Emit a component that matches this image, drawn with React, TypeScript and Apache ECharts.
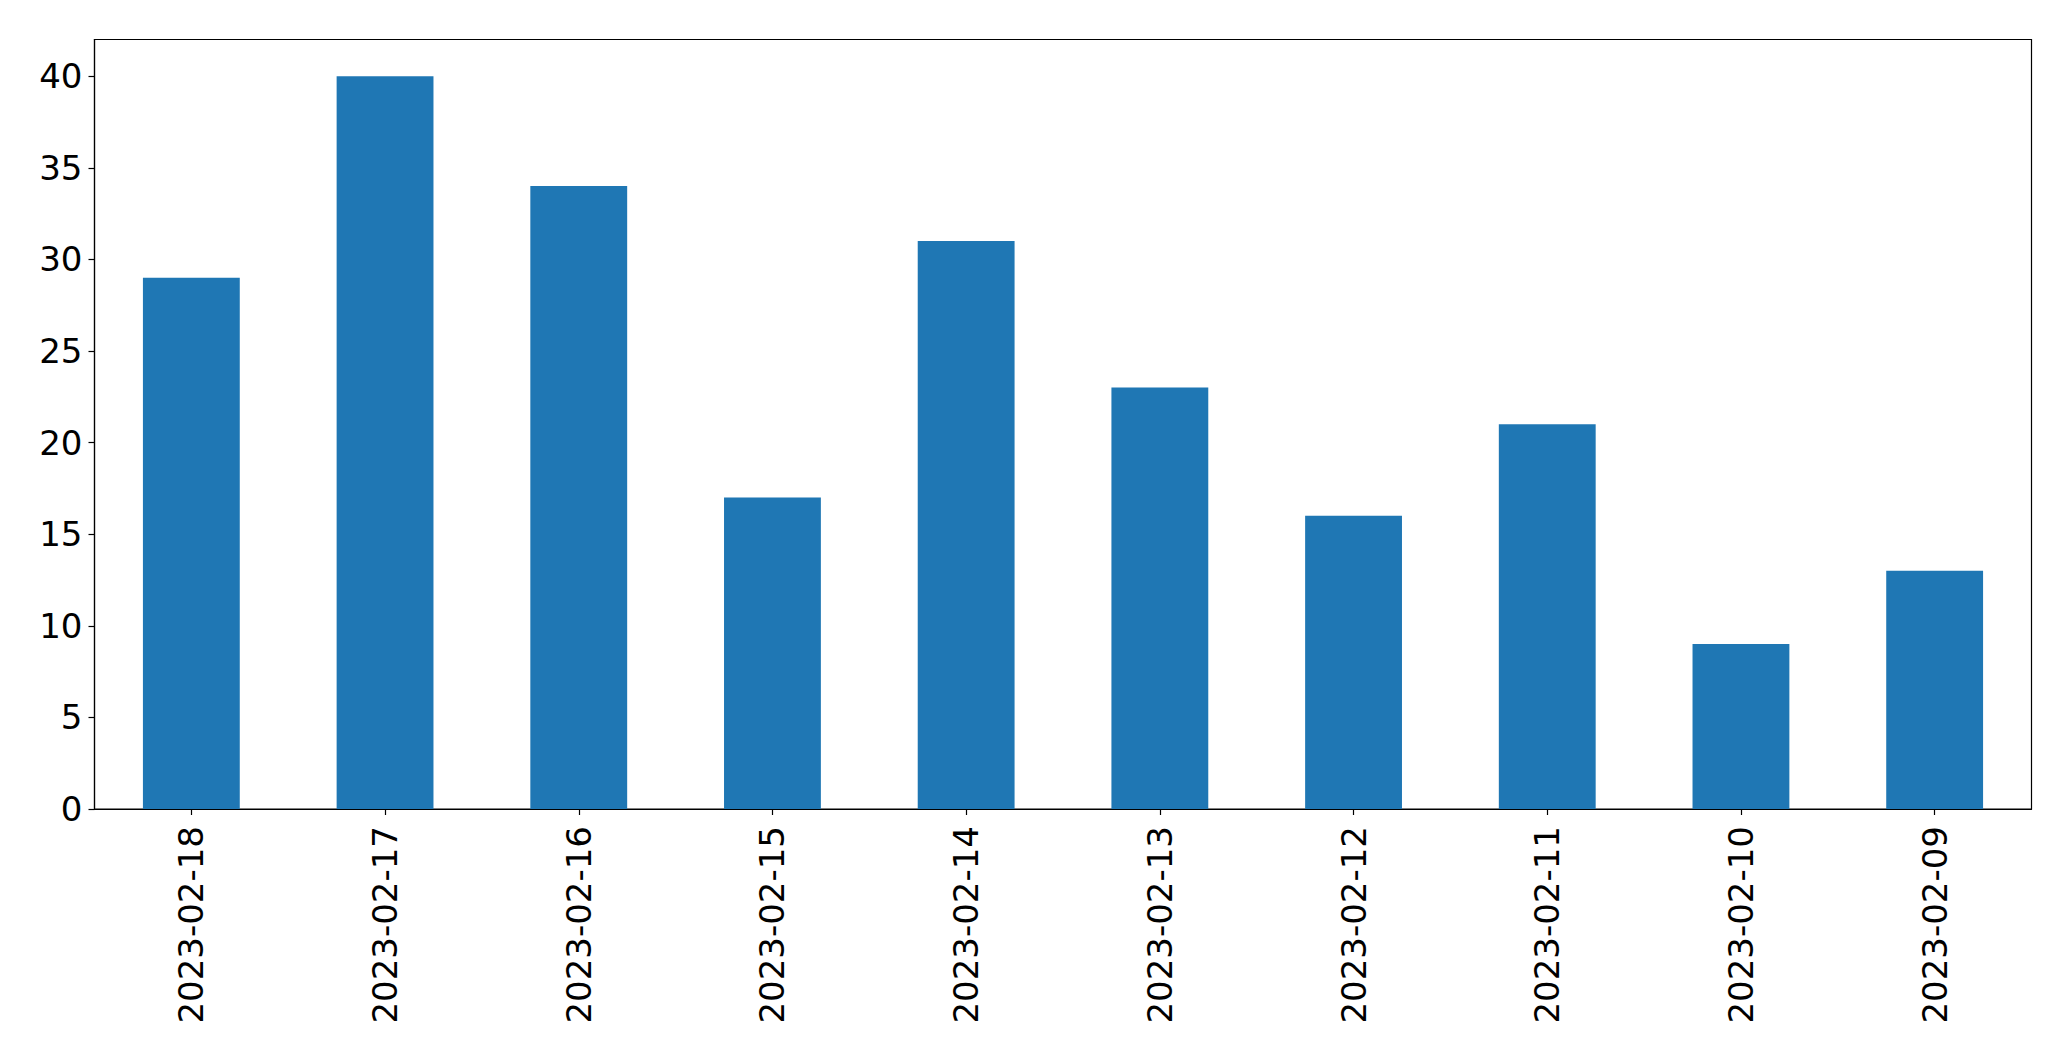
import React, { useEffect, useRef } from "react";
import * as echarts from "echarts";

const categories = [
  "2023-02-18",
  "2023-02-17",
  "2023-02-16",
  "2023-02-15",
  "2023-02-14",
  "2023-02-13",
  "2023-02-12",
  "2023-02-11",
  "2023-02-10",
  "2023-02-09",
];
const values = [29, 40, 34, 17, 31, 23, 16, 21, 9, 13];
const yTicks = [0, 5, 10, 15, 20, 25, 30, 35, 40];

export default function App() {
  const ref = useRef<HTMLDivElement>(null);
  useEffect(() => {
    if (!ref.current) return;
    const chart = echarts.init(ref.current, undefined, { renderer: "svg" });
    const font = "DejaVu Sans";
    chart.setOption({
      animation: false,
      backgroundColor: "#ffffff",
      grid: {
        left: 94.5,
        right: 39.5,
        top: 39.5,
        bottom: 252,
        show: true,
        borderColor: "#000000",
        borderWidth: 1.2,
        backgroundColor: "transparent",
      },
      xAxis: {
        type: "category",
        data: categories,
        boundaryGap: true,
        axisLine: { show: true, lineStyle: { color: "#000", width: 1.2 } },
        axisTick: { show: true, alignWithLabel: true, length: 6, lineStyle: { color: "#000", width: 1.2 } },
        axisLabel: {
          rotate: 90,
          fontSize: 34,
          fontFamily: font,
          color: "#000",
          margin: 17,
          interval: 0,
        },
        splitLine: { show: false },
      },
      yAxis: {
        type: "value",
        min: 0,
        max: 42,
        interval: 5,
        axisLine: { show: true, lineStyle: { color: "#000", width: 1.2 } },
        axisTick: {
          show: true,
          length: 6,
          lineStyle: { color: "#000", width: 1.2 },
          customValues: yTicks,
        },
        axisLabel: {
          fontSize: 34,
          fontFamily: font,
          color: "#000",
          margin: 12,
          customValues: yTicks,
        },
        splitLine: { show: false },
      },
      series: [
        {
          type: "bar",
          data: values,
          barWidth: "50%",
          itemStyle: { color: "#1f77b4" },
        },
      ],
    });
    return () => chart.dispose();
  }, []);
  return (
    <div
      ref={ref}
      style={{ position: "fixed", left: 0, top: 0, width: 2071, height: 1061, background: "#fff" }}
    />
  );
}
